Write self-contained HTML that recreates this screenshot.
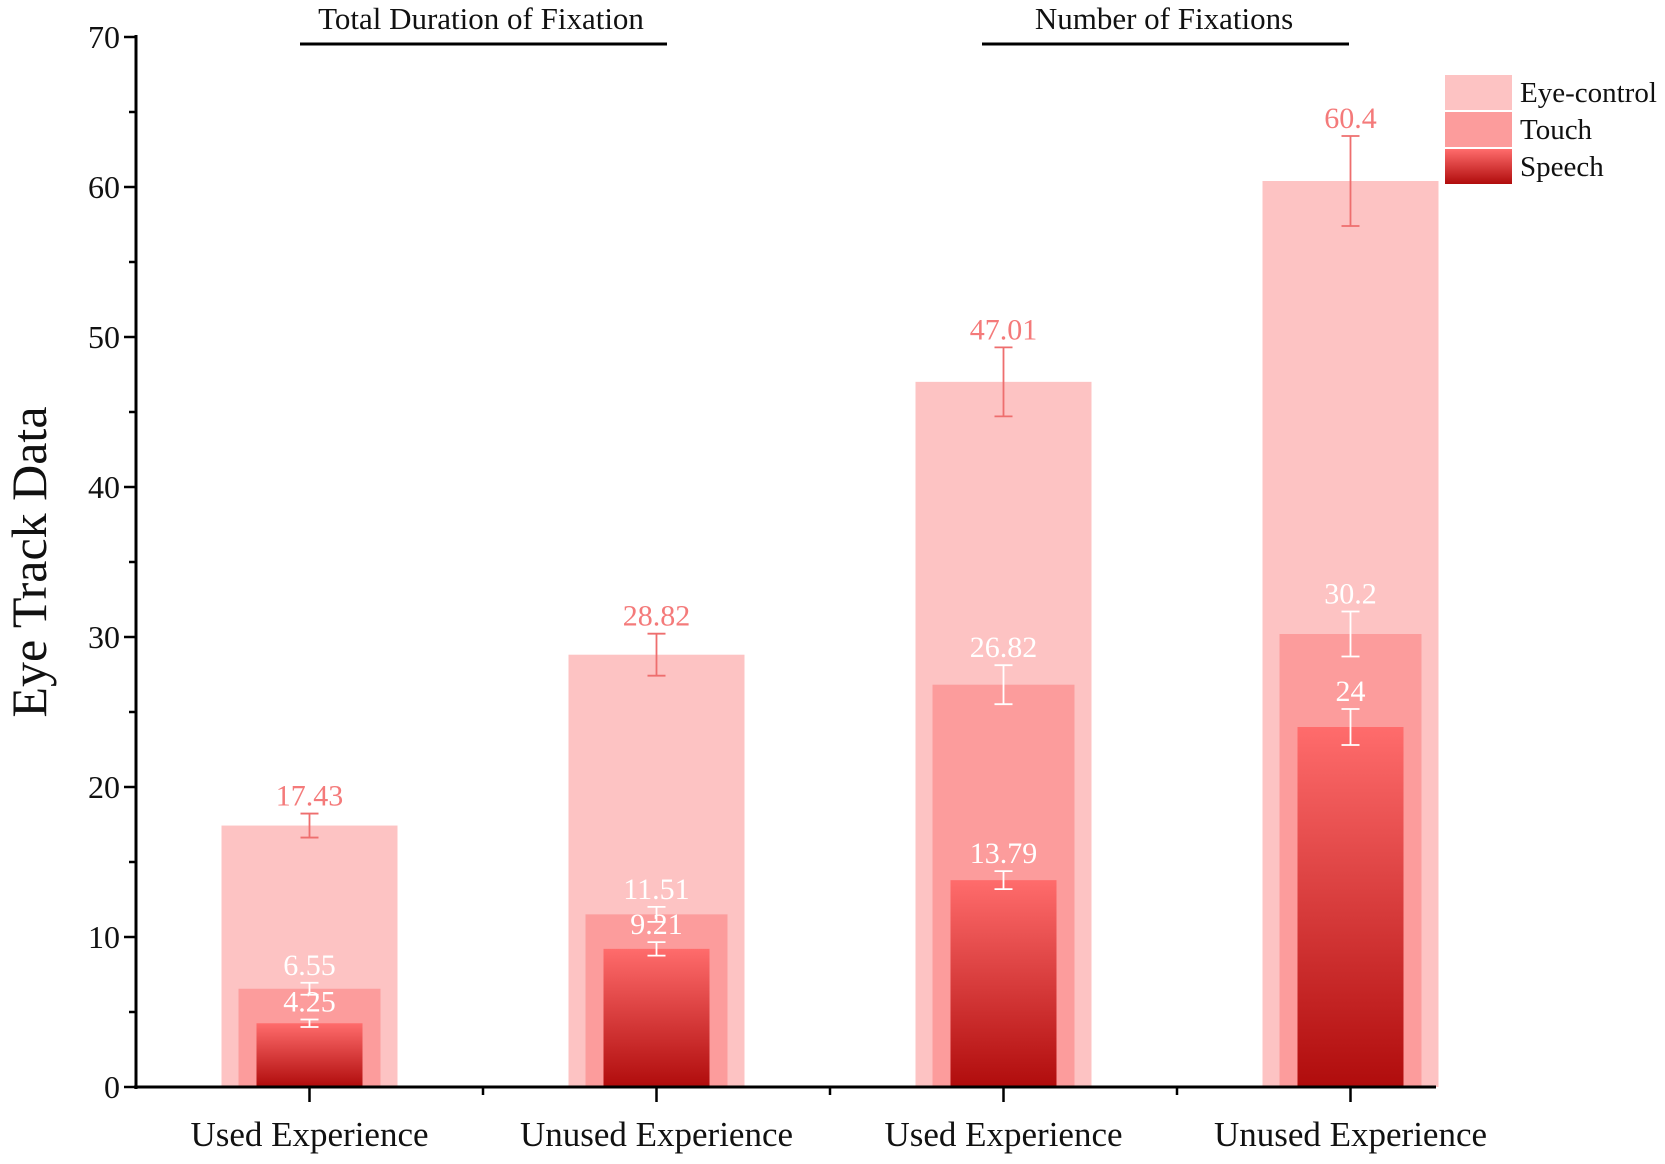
<!DOCTYPE html>
<html><head><meta charset="utf-8"><style>
html,body{margin:0;padding:0;background:#fff;}
svg{display:block;font-family:"Liberation Serif",serif;}
</style></head><body>
<svg id="chart" width="1665" height="1164" viewBox="0 0 1665 1164">
<defs>
<linearGradient id="spg" x1="0" y1="0" x2="0" y2="1">
<stop offset="0" stop-color="#ff6c6c"/><stop offset="1" stop-color="#b00c0c"/>
</linearGradient>
</defs>
<g id="plot"></g>
<text x="481" y="29" font-size="31" text-anchor="middle" fill="#111">Total Duration of Fixation</text>
<line x1="300" y1="44" x2="667" y2="44" stroke="#000" stroke-width="3"/>
<text x="1164" y="29" font-size="31" text-anchor="middle" fill="#111">Number of Fixations</text>
<line x1="982" y1="44" x2="1349" y2="44" stroke="#000" stroke-width="3"/>
<text transform="translate(46,562) rotate(-90)" font-size="50" text-anchor="middle" fill="#111">Eye Track Data</text>
<g>
<rect x="1445" y="75" width="67" height="35" fill="#fdc3c3"/>
<text x="1520" y="102" font-size="29" fill="#111">Eye-control</text>
<rect x="1445" y="112" width="67" height="35" fill="#fc9c9c"/>
<text x="1520" y="139" font-size="29" fill="#111">Touch</text>
<rect x="1445" y="149" width="67" height="35" fill="url(#spg)"/>
<text x="1520" y="176" font-size="29" fill="#111">Speech</text>
</g>
</svg>
<script>
const categories = ["Used Experience","Unused Experience","Used Experience","Unused Experience"];
const eyeValues = [17.43, 28.82, 47.01, 60.4];
const eyeErrors = [0.8, 1.4, 2.3, 3.0];
const touchValues = [6.55, 11.51, 26.82, 30.2];
const touchErrors = [0.4, 0.5, 1.3, 1.5];
const speechValues = [4.25, 9.21, 13.79, 24];
const speechErrors = [0.25, 0.45, 0.6, 1.2];
const yTicks = [0,10,20,30,40,50,60,70];

const NS = "http://www.w3.org/2000/svg";
const g = document.getElementById("plot");
const X0 = 136, X1 = 1436, Y0 = 1087, Y70 = 37;
const yScale = v => Y0 - v * (Y0 - Y70) / 70;
const catW = 347;
const xCenter = i => X0 + catW * (i + 0.5);
function mk(tag, attrs){ const e = document.createElementNS(NS, tag); for (const k in attrs) e.setAttribute(k, attrs[k]); g.appendChild(e); return e; }

function series(vals, errs, w, fill, txtColor, errColor, name){
  vals.forEach((v, i) => {
    const cx = xCenter(i);
    const r = mk("rect", {x: cx - w/2, y: yScale(v), width: w, height: Y0 - yScale(v), fill: fill});
    
    
    const top = yScale(v + errs[i]), bot = yScale(v - errs[i]);
    const eb = mk("path", {d: `M${cx},${top}V${bot}M${cx-9},${top}H${cx+9}M${cx-9},${bot}H${cx+9}`, stroke: errColor, "stroke-width": 1.8, fill: "none"});
    
    
    const t = mk("text", {x: cx, y: top - 8, "font-size": 30, "text-anchor": "middle", fill: txtColor});
    t.textContent = String(v);
    
    
  });
}
series(eyeValues, eyeErrors, 176, "#fdc3c3", "#f47a7a", "#ee6e6e", "eye-control");
series(touchValues, touchErrors, 142, "#fc9c9c", "#ffffff", "#ffffff", "touch");
series(speechValues, speechErrors, 106, "url(#spg)", "#ffffff", "#ffffff", "speech");

const ya = mk("line", {x1: X0, y1: Y70 - 2, x2: X0, y2: Y0 + 2, stroke: "#000", "stroke-width": 3});


const xa = mk("line", {x1: X0 - 2, y1: Y0, x2: X1, y2: Y0, stroke: "#000", "stroke-width": 3});


for (let v = 0; v <= 70; v += 5) {
  const major = v % 10 === 0;
  mk("line", {x1: X0 - (major ? 12 : 7), y1: yScale(v), x2: X0, y2: yScale(v), stroke: "#000", "stroke-width": 2.5});
}
yTicks.forEach(v => {
  const t = mk("text", {x: X0 - 16, y: yScale(v) + 11, "font-size": 32, "text-anchor": "end", fill: "#111"});
  t.textContent = v;
  
  
});
categories.forEach((c, i) => {
  const cx = xCenter(i);
  mk("line", {x1: cx, y1: Y0, x2: cx, y2: Y0 + 15, stroke: "#000", "stroke-width": 2.5});
  if (i > 0) mk("line", {x1: X0 + catW * i, y1: Y0, x2: X0 + catW * i, y2: Y0 + 8, stroke: "#000", "stroke-width": 2.5});
  const t = mk("text", {x: cx, y: 1146, "font-size": 35, "text-anchor": "middle", fill: "#111"});
  t.textContent = c;
  
  
});
</script>
</body></html>
